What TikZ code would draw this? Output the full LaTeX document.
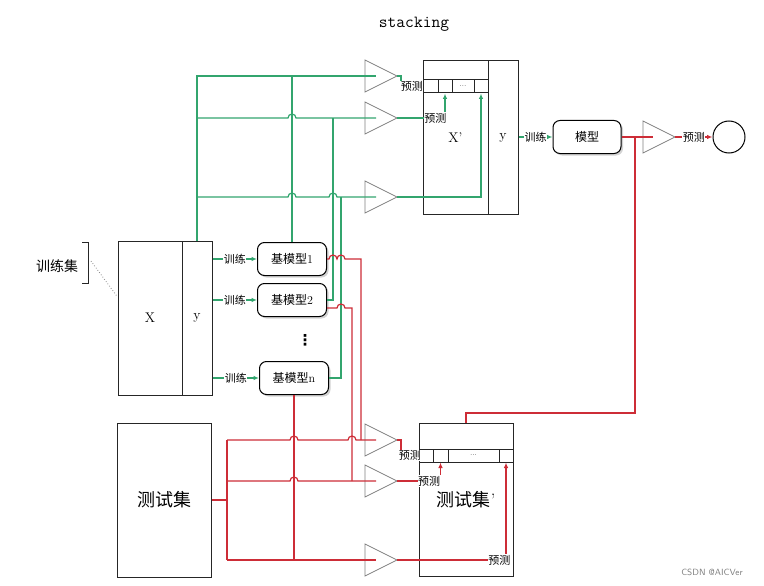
\documentclass[tikz,border=0pt]{standalone}
\usepackage{fontspec}
\newfontfamily\cjk{Noto Sans CJK SC}
\newfontfamily\sym{DejaVu Sans}
\usepackage{tikz}
\usetikzlibrary{arrows,arrows.meta,shapes,shadows}
\definecolor{lgreen}{RGB}{50,165,110}
\definecolor{lred}{RGB}{205,45,55}

\begin{document}
\begin{tikzpicture}[x=1pt, y=-1pt, >={Latex[length=5.5pt,width=4.5pt]}]
	\tikzstyle{plain_box} = [rectangle, draw=black!85, line width=1pt, inner sep=0pt,
	font=\fontsize{14}{16}\selectfont]
	\tikzstyle{cell} = [rectangle, draw=black!85, line width=1pt, inner sep=0pt,
	minimum height=13pt, font=\scriptsize]
	\tikzstyle{model_box} = [rectangle, rounded corners=7pt, draw=black, line width=1pt,
	fill=white, drop shadow={opacity=0.35, shadow xshift=2pt, shadow yshift=-2pt},
	minimum width=69pt, minimum height=33pt, font=\fontsize{12}{14}\selectfont]
	\tikzstyle{green_line} = [draw=lgreen, line width=1.2pt]
	\tikzstyle{red_line} = [draw=lred, line width=1.2pt]
	\tikzstyle{edge_label} = [fill=white, inner sep=0.6pt, font=\cjk\fontsize{11}{12}\selectfont]
	\tikzstyle{amp} = [draw=gray, line width=0.7pt]
	\tikzset{jump/.style={insert path={arc[start angle=180, end angle=360, radius=4]}}}
	\useasboundingbox (0,0) rectangle (764,586);

	\node (title) at (414,24) {\fontsize{17}{19}\selectfont\ttfamily stacking};

	% training set
	\node[plain_box, minimum width=64pt, minimum height=154pt] (trX) at (150,318) {X};
	\node[plain_box, minimum width=30pt, minimum height=154pt] (trY) at (197,318) {y};
	\node[font=\cjk\fontsize{14}{16}\selectfont] (trlbl) at (57,266) {训练集};
	\draw[black!85, line width=0.8pt] (82,242) -- (88,242) -- (88,283) -- (82,283);
	\coordinate (brk) at (91,261);
	\draw[gray, dotted, line width=0.8pt] (brk) -- ([yshift=21pt]trX.west);

	% test set
	\node[plain_box, minimum width=94pt, minimum height=154pt,
	font=\cjk\fontsize{18}{20}\selectfont] (ts) at (164,500) {测试集};

	% base models
	\node[model_box] (bm1) at (292,259) {{\cjk 基模型}1};
	\node[model_box] (bm2) at (292,300) {{\cjk 基模型}2};
	\node[model_box] (bmn) at (294,378) {{\cjk 基模型}n};
	\node[font=\sym\bfseries\fontsize{15}{16}\selectfont] (dots) at (305,340) {⋮};

	% triangles
	\foreach \n/\y in {t1/76, t2/118, t3/197, b1/440, b2/481, b3/560} {
		\draw[amp] (365,\y-16) -- (397,\y) -- (365,\y+16) -- cycle;
		\coordinate (in-\n) at (376,\y);
		\coordinate (out-\n) at (397,\y);
	}
	\draw[amp] (643,121) -- (675,137) -- (643,153) -- cycle;
	\coordinate (in-t4) at (653,137);
	\coordinate (out-t4) at (675,137);

	% X' and y
	\node[plain_box, minimum width=65pt, minimum height=153pt] (xp) at (455.5,137.5) {X'};
	\node[plain_box, minimum width=30pt, minimum height=153pt] (yp) at (503,137.5) {y};
	\node[cell, minimum width=15pt] (c1) at (430.5,86.5) {};
	\node[cell, minimum width=14pt] (c2) at (445,86.5) {};
	\node[cell, minimum width=22pt] (c3) at (463,86.5) {...};
	\node[cell, minimum width=14pt] (c4) at (481,86.5) {};

	% test set '
	\node[plain_box, minimum width=94pt, minimum height=153pt,
	font=\fontsize{18}{20}\selectfont] (tsp) at (466,499.5) {{\cjk 测试集}'};
	\node[cell, minimum width=14pt] (d1) at (426,455.5) {};
	\node[cell, minimum width=15pt] (d2) at (440.5,455.5) {};
	\node[cell, minimum width=51pt] (d3) at (473.5,455.5) {...};
	\node[cell, minimum width=14pt] (d4) at (506,455.5) {};

	% model and result
	\node[model_box, minimum width=68pt, font=\cjk\fontsize{12}{14}\selectfont] (mdl) at (587,137) {模型};
	\node[circle, draw=black, line width=1pt, minimum size=32pt, inner sep=0pt] (res) at (729,137) {};

	% green wires
	\draw[green_line] (trY.north) -- (197,76) -- (in-t1);
	\draw[green_line] (197,118) -- (288,118) [jump] -- (in-t2);
	\draw[green_line] (197,197) -- (288,197) [jump] -- (329,197) [jump] -- (in-t3);
	\draw[green_line] (bm1.north) -- (292,76);
	\draw[green_line] (bm2.east) -| (333,118);
	\draw[green_line] (bmn.east) -| (341,197);
	\draw[green_line,->] (trY.east |- bm1.west) -- node[edge_label]{训练} (bm1.west);
	\draw[green_line,->] (trY.east |- bm2.west) -- node[edge_label]{训练} (bm2.west);
	\draw[green_line,->] (trY.east |- bmn.west) -- node[edge_label]{训练} (bmn.west);
	\draw[green_line,->] (out-t1) -- (401,76) |- (c1.west) node[pos=0.75,edge_label]{预测};
	\draw[green_line,->] (out-t2) -| (c2.south) node[pos=0.4,edge_label]{预测};
	\draw[green_line,->] (out-t3) -| (c4.south);
	\draw[green_line,->] (yp.east |- mdl.west) -- node[edge_label]{训练} (mdl.west);

	% red wires
	\draw[red_line] (bm1.east) -- (329,259) [jump] -- (337,259) [jump] -- (361,259) -- (361,440);
	\draw[red_line] ([yshift=-8pt]bm2.east) -- (337,308) [jump] -- (352,308) -- (352,481);
	\draw[red_line] (bmn.south) -- (294,560);
	\draw[red_line] (ts.east) -- (227,500);
	\draw[red_line] (227,440) -- (227,560);
	\draw[red_line] (227,440) -- (290,440) [jump] -- (348,440) [jump] -- (in-b1);
	\draw[red_line] (227,481) -- (290,481) [jump] -- (in-b2);
	\draw[red_line] (227,560) -- (in-b3);
	\draw[red_line,->] (out-b1) -- (401,440) |- (d1.west) node[pos=0.75,edge_label]{预测};
	\draw[red_line,->] (out-b2) -| (d2.south) node[pos=0.37,edge_label]{预测};
	\draw[red_line,->] (out-b3) -| (d4.south) node[pos=0.47,edge_label]{预测};
	\draw[red_line] (mdl.east) -- (in-t4);
	\coordinate (jn) at (635,137);
	\draw[red_line] (jn) |- (466,413) -- (tsp.north);
	\draw[red_line,->] (out-t4) -- node[edge_label]{预测} (res.west);

	\node[gray, font=\sffamily\fontsize{9}{10}\selectfont] (mark) at (712,572) {CSDN @AICVer};
\end{tikzpicture}
\end{document}
